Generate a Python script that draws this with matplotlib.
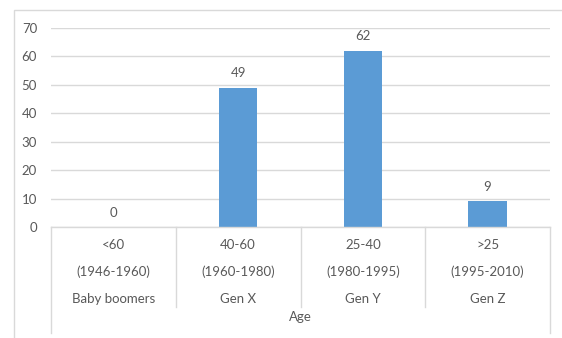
import matplotlib
matplotlib.use("Agg")
import matplotlib.pyplot as plt
from matplotlib.patches import Rectangle
from matplotlib.lines import Line2D
import matplotlib.transforms as mtransforms

age_ranges = ["<60", "40-60", "25-40", ">25"]
birth_years = ["(1946-1960)", "(1960-1980)", "(1980-1995)", "(1995-2010)"]
generations = ["Baby boomers", "Gen X", "Gen Y", "Gen Z"]
values = [0, 49, 62, 9]
y_ticks = [0, 10, 20, 30, 40, 50, 60, 70]
axis_title = "Age"

W, H = 562, 338
plt.rcParams["font.family"] = ["Lato", "DejaVu Sans"]
text_color = "#595959"
grid_color = "#D9D9D9"
bar_color = "#5B9BD5"

fig = plt.figure(figsize=(W / 100, H / 100), dpi=100)

# outer chart frame
fig.patches.append(Rectangle((14 / W, -0.1), 1.2, 1 - 10 / H + 0.1,
                             transform=fig.transFigure, fill=False,
                             edgecolor=grid_color, linewidth=1.0))

left, right, top, bottom = 51, 550, 28, 227
ax = fig.add_axes([left / W, 1 - bottom / H, (right - left) / W, (bottom - top) / H])

x = range(len(values))
ax.bar(x, values, width=0.31, color=bar_color, zorder=3)
ax.set_xlim(-0.5, len(values) - 0.5)
ax.set_ylim(0, 70)
ax.set_yticks(y_ticks)
ax.tick_params(axis="y", length=0, pad=10, labelsize=9.5, labelcolor=text_color)
ax.set_xticks([])
for s in ax.spines.values():
    s.set_visible(False)
ax.yaxis.grid(True, color=grid_color, linewidth=1.0, zorder=0)
ax.set_axisbelow(True)

# value labels
for i, v in enumerate(values):
    ax.annotate(str(v), (i, v), xytext=(0, 10.4), textcoords="offset points",
                ha="center", va="center", fontsize=9.5, color=text_color)

# multi-level category axis
axis_h = bottom - top
def ay(px):
    return (bottom - px) / axis_h

trans = mtransforms.blended_transform_factory(ax.transData, ax.transAxes)
ax.add_line(Line2D([-0.5, len(values) - 0.5], [0, 0], transform=trans,
                   color=grid_color, linewidth=1.0, clip_on=False, zorder=4))
n = len(values)
for k in range(n + 1):
    xb = k - 0.5
    y_end = ay(333) if k in (0, n) else ay(307)
    ax.add_line(Line2D([xb, xb], [0, y_end], transform=trans,
                       color=grid_color, linewidth=1.0, clip_on=False))

for i in range(n):
    ax.text(i, ay(245), age_ranges[i], transform=trans, ha="center", va="center",
            fontsize=9.5, color=text_color)
    ax.text(i, ay(272), birth_years[i], transform=trans, ha="center", va="center",
            fontsize=9.5, color=text_color)
    ax.text(i, ay(299), generations[i], transform=trans, ha="center", va="center",
            fontsize=9.5, color=text_color)

ax.text((n - 1) / 2, ay(317), axis_title, transform=trans, ha="center", va="center",
        fontsize=9.5, color=text_color)

fig.savefig("out.png", dpi=100, facecolor="white")
